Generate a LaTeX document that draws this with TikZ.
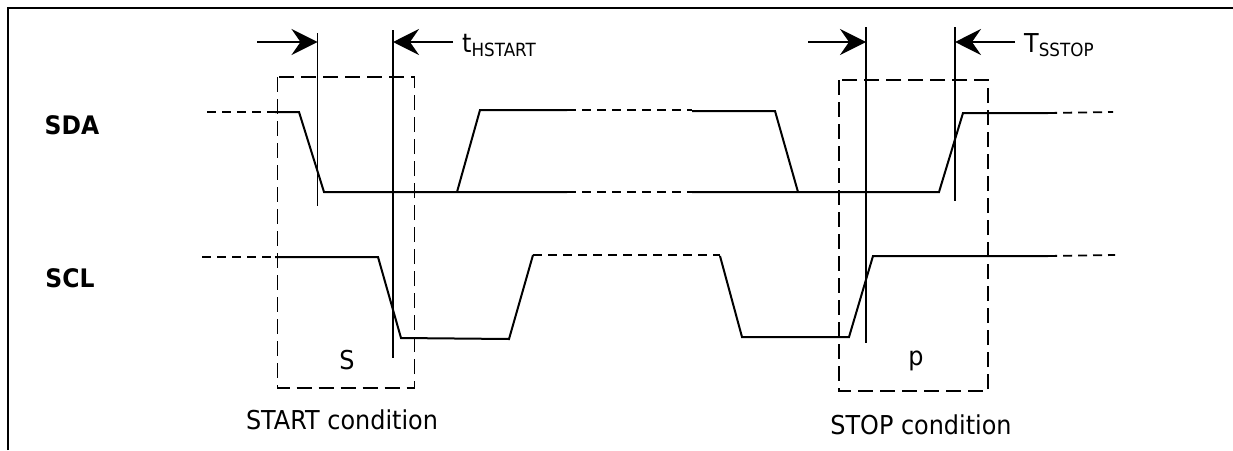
\documentclass[tikz,border=0pt]{standalone}
\usepackage{fontspec}
\setmainfont[FakeStretch=0.92]{DejaVu Sans}
\usepackage{tikz}
\usetikzlibrary{positioning}
\usetikzlibrary{arrows.meta}
\tikzset{
  wave/.style={line width=2pt,line join=miter},
  wave dash/.style={line width=1.8pt,dash pattern=on 9pt off 6pt},
  marker/.style={line width=1.7pt},
  box/.style={line width=1.8pt,dash pattern=on 15pt off 7pt},
  timing arrow/.style={line width=1.7pt,-{Stealth[length=26pt,width=26pt,inset=9pt]}},
  signal label/.style={font=\fontsize{25.5}{30}\selectfont\bfseries,inner sep=0pt},
  plain label/.style={font=\fontsize{26}{30}\selectfont,inner sep=0pt,anchor=base},
}

\begin{document}
\begin{tikzpicture}[x=1pt,y=-1pt]
    \useasboundingbox (0,0) rectangle (1233,450);

    \coordinate (frame tl) at (8,8);
    \coordinate (frame tr) at (1233,8);
    \coordinate (frame bl) at (8,450);
    \draw[line width=2.4pt] (frame bl) -- (frame tl) -- (frame tr);

    \node[signal label] (sda) at (72,125) {SDA};
    \node[signal label] (scl) at (70,278) {SCL};

    % SDA
    \draw[wave dash] (207,112) -- (275,112);
    \draw[wave] (275,112) -- (299,112) -- (324,192) -- (567,192);
    \draw[wave] (457,192) -- (480,110) -- (567,110);
    \draw[wave dash] (567,110) -- (692,110);
    \draw[wave dash] (567,192) -- (692,192);
    \draw[wave] (692,111) -- (775,111) -- (798,192);
    \draw[wave] (692,192) -- (939,192) -- (963,113) -- (1048,113);
    \draw[wave dash] (1048,113) -- (1113,112);

    % SCL
    \draw[wave dash] (202,257) -- (275,257);
    \draw[wave] (275,257) -- (378,257) -- (401,338) -- (509,339) -- (533,255);
    \draw[wave dash] (533,255) -- (720,255);
    \draw[wave] (720,256) -- (742,337) -- (849,337) -- (873,256) -- (1048,256);
    \draw[wave dash] (1048,256) -- (1115,255);

    % markers
    \coordinate (m1 top) at (317.5,33);
    \coordinate (m1 bot) at (317.5,206);
    \coordinate (m2 top) at (393,30);
    \coordinate (m2 bot) at (393,358);
    \coordinate (m3 top) at (866,27);
    \coordinate (m3 bot) at (866,343);
    \coordinate (m4 top) at (955,27);
    \coordinate (m4 bot) at (955,201);
    \draw[marker] (m1 top) -- (m1 bot);
    \draw[marker] (m2 top) -- (m2 bot);
    \draw[marker] (m3 top) -- (m3 bot);
    \draw[marker] (m4 top) -- (m4 bot);

    \coordinate (a1) at (257,42);
    \coordinate (a2) at (453,42);
    \coordinate (a3) at (808,42);
    \coordinate (a4) at (1015,42);
    \draw[timing arrow] (a1) -- (m1 top |- a1);
    \draw[timing arrow] (a2) -- (m2 top |- a2);
    \draw[timing arrow] (a3) -- (m3 top |- a3);
    \draw[timing arrow] (a4) -- (m4 top |- a4);

    % condition boxes
    \draw[box] (277.5,77) rectangle (414.5,388);
    \draw[box] (839,80) rectangle (988,391);

    \node[plain label,anchor=base west] (thstart) at (462,52) {t\textsubscript{HSTART}};
    \node[plain label,anchor=base west] (tsstop) at (1024,52) {T\textsubscript{SSTOP}};
    \node[plain label] (s) at (347,369) {S};
    \node[plain label] (p) at (916,365) {p};
    \node[plain label] (start) at (342,429) {START condition};
    \node[plain label] (stop) at (921,434) {STOP condition};
\end{tikzpicture}
\end{document}
